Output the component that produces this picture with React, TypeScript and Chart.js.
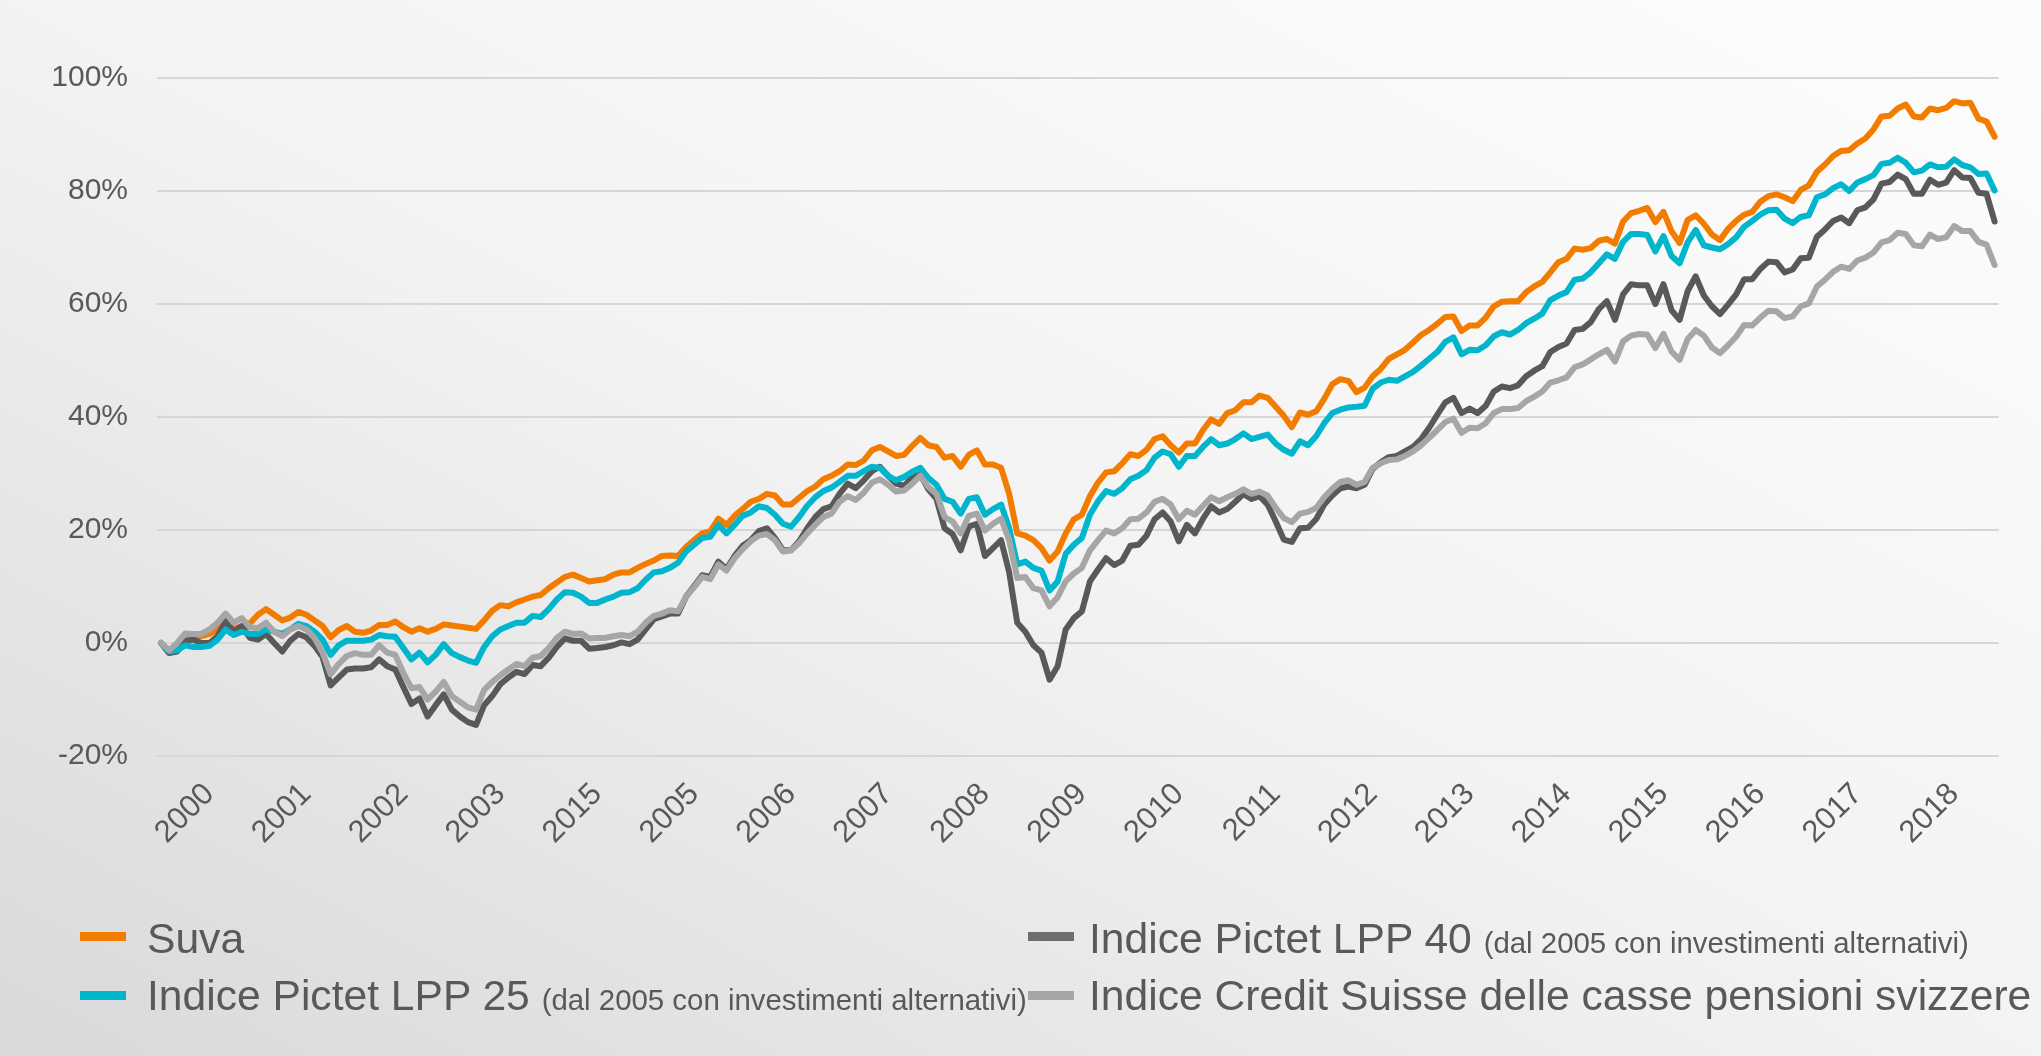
import React, { useEffect, useRef } from 'react';
import { Chart, registerables } from 'chart.js';

Chart.register(...registerables);

// Tick labels as printed on the original axis (one per year, centred on July)
const yearTicks = ['2000', '2001', '2002', '2003', '2015', '2005', '2006', '2007', '2008', '2009', '2010', '2011', '2012', '2013', '2014', '2015', '2016', '2017', '2018'];

// Monthly categories Jan 2000 .. Dec 2018
const categories: string[] = [];
for (let y = 2000; y <= 2018; y++) {
  for (let m = 1; m <= 12; m++) categories.push(`${y}-${m < 10 ? '0' + m : m}`);
}

const suva = [
  0, -1.6, -1.3, 1.6, 1.4, 1.2, 1.6, 2.4, 3.5, 2.5, 3.0, 3.5,
  5.0, 6.0, 5.0, 4.0, 4.5, 5.5, 5.0, 4.0, 3.0, 1.0, 2.3, 3.0,
  2.0, 1.8, 2.2, 3.2, 3.2, 3.8, 2.8, 2.0, 2.6, 2.0, 2.5, 3.3,
  3.1, 2.9, 2.7, 2.5, 4.0, 5.7, 6.7, 6.5, 7.2, 7.7, 8.2, 8.5,
  9.7, 10.7, 11.7, 12.1, 11.5, 10.9, 11.1, 11.3, 12.1, 12.5, 12.5, 13.3,
  14.0, 14.6, 15.4, 15.5, 15.4, 17.0, 18.2, 19.4, 19.8, 22.0, 20.9, 22.5,
  23.7, 25.0, 25.5, 26.4, 26.1, 24.5, 24.5, 25.7, 26.9, 27.7, 29.0, 29.6,
  30.4, 31.6, 31.5, 32.3, 34.1, 34.7, 33.9, 33.1, 33.3, 34.9, 36.3, 35.0,
  34.7, 32.8, 33.1, 31.2, 33.3, 34.1, 31.6, 31.6, 31.0, 26.4, 19.4, 19.0,
  18.2, 16.8, 14.6, 16.2, 19.4, 21.9, 22.7, 26.0, 28.4, 30.2, 30.4, 31.8,
  33.4, 33.1, 34.2, 36.1, 36.6, 35.0, 33.7, 35.3, 35.3, 37.7, 39.6, 38.8,
  40.7, 41.2, 42.6, 42.6, 43.8, 43.4, 41.8, 40.2, 38.2, 40.8, 40.4, 41.0,
  43.2, 45.8, 46.7, 46.4, 44.4, 45.2, 47.2, 48.5, 50.3, 51.1, 51.9, 53.2,
  54.5, 55.4, 56.5, 57.7, 57.8, 55.2, 56.2, 56.2, 57.6, 59.6, 60.4, 60.5,
  60.5, 62.1, 63.1, 63.9, 65.6, 67.4, 68.0, 69.8, 69.6, 69.9, 71.2, 71.5,
  70.7, 74.6, 76.1, 76.5, 77.0, 74.5, 76.3, 72.9, 70.8, 74.9, 75.7, 74.2,
  72.3, 71.3, 73.3, 74.7, 75.8, 76.3, 78.1, 79.1, 79.4, 78.9, 78.2, 80.2,
  81.0, 83.4, 84.7, 86.2, 87.1, 87.2, 88.4, 89.3, 90.9, 93.2, 93.3, 94.6,
  95.3, 93.2, 93.0, 94.6, 94.3, 94.7, 95.9, 95.5, 95.6, 92.8, 92.3, 89.6,
];

const lpp25 = [
  0, -1.5, -1.3, -0.4, -0.7, -0.7, -0.5, 0.6, 2.4, 1.4, 2.0, 1.6,
  1.6, 2.4, 2.0, 1.6, 2.4, 3.4, 3.0, 2.0, 0.6, -2.1, -0.4, 0.4,
  0.4, 0.4, 0.6, 1.4, 1.2, 1.1, -0.9, -2.9, -1.7, -3.4, -2.1, -0.2,
  -1.8, -2.5, -3.1, -3.5, -0.7, 1.2, 2.4, 3.0, 3.6, 3.6, 4.8, 4.6,
  6.0, 7.7, 9.0, 8.9, 8.2, 7.1, 7.1, 7.7, 8.2, 8.9, 9.0, 9.7,
  11.2, 12.5, 12.7, 13.3, 14.2, 16.2, 17.4, 18.6, 18.8, 20.9, 19.4, 20.9,
  22.5, 23.1, 24.2, 23.9, 22.7, 21.1, 20.6, 22.3, 24.3, 25.8, 26.9, 27.5,
  28.5, 29.6, 29.6, 30.4, 31.2, 31.0, 29.6, 28.8, 29.4, 30.3, 31.0, 29.2,
  28.0, 25.5, 25.0, 22.9, 25.5, 25.8, 22.7, 23.7, 24.5, 20.3, 13.9, 14.4,
  13.3, 12.8, 9.3, 10.9, 15.8, 17.4, 18.6, 22.7, 25.1, 26.9, 26.4, 27.4,
  29.0, 29.6, 30.6, 32.8, 33.9, 33.4, 31.2, 33.1, 33.1, 34.7, 36.1, 35.0,
  35.3, 36.1, 37.1, 36.1, 36.5, 36.9, 35.3, 34.2, 33.5, 35.7, 35.0, 36.6,
  38.9, 40.7, 41.3, 41.7, 41.8, 42.0, 45.0, 46.1, 46.6, 46.4, 47.2, 48.0,
  49.1, 50.3, 51.5, 53.3, 54.1, 51.1, 51.9, 51.8, 52.7, 54.3, 55.0, 54.6,
  55.4, 56.6, 57.4, 58.3, 60.7, 61.5, 62.1, 64.3, 64.5, 65.6, 67.2, 68.8,
  68.0, 71.0, 72.4, 72.4, 72.2, 69.3, 72.0, 68.5, 67.2, 70.9, 73.1, 70.4,
  70.0, 69.7, 70.6, 71.8, 73.7, 74.7, 75.8, 76.6, 76.7, 75.1, 74.3, 75.4,
  75.7, 78.9, 79.4, 80.5, 81.2, 80.0, 81.5, 82.1, 82.8, 84.8, 85.0, 85.9,
  85.0, 83.3, 83.6, 84.7, 84.2, 84.3, 85.6, 84.6, 84.2, 83.0, 83.1, 80.1,
];

const lpp40 = [
  0, -1.8, -1.5, 0.4, 0.6, 0, 0, 1.2, 3.9, 2.0, 3.0, 0.9,
  0.6, 1.6, 0, -1.5, 0.4, 1.6, 1.0, -0.5, -2.5, -7.5, -6.1, -4.7,
  -4.5, -4.5, -4.3, -2.9, -4.1, -4.7, -7.8, -10.8, -9.8, -13.0, -11.0, -9.1,
  -11.8, -13.0, -14.0, -14.5, -11.0, -9.4, -7.3, -6.1, -5.1, -5.5, -3.9, -4.1,
  -2.6, -0.7, 0.8, 0.4, 0.4, -1.0, -0.9, -0.7, -0.4, 0.1, -0.2, 0.6,
  2.4, 4.2, 4.7, 5.2, 5.2, 8.2, 10.1, 12.0, 11.7, 14.4, 13.1, 15.4,
  17.2, 18.2, 19.8, 20.3, 18.6, 16.4, 16.4, 18.0, 20.3, 22.3, 23.7, 24.2,
  26.4, 28.2, 27.4, 28.8, 30.4, 31.2, 29.6, 28.2, 27.8, 29.4, 29.8, 27.2,
  25.5, 20.3, 19.3, 16.4, 20.6, 21.1, 15.4, 16.8, 18.2, 12.5, 3.6, 2.0,
  -0.4, -1.7, -6.5, -4.1, 2.4, 4.4, 5.6, 10.9, 13.0, 15.0, 13.8, 14.6,
  17.2, 17.4, 19.0, 21.9, 23.1, 21.5, 18.0, 20.9, 19.4, 22.0, 24.2, 23.1,
  23.7, 25.0, 26.4, 25.5, 26.0, 24.5, 21.5, 18.3, 17.9, 20.3, 20.4, 21.9,
  24.5, 26.1, 27.4, 27.7, 27.4, 28.0, 30.8, 32.0, 32.9, 33.1, 33.9, 34.7,
  36.1, 38.1, 40.4, 42.6, 43.4, 40.7, 41.5, 40.7, 42.0, 44.5, 45.4, 45.1,
  45.6, 47.2, 48.2, 49.0, 51.5, 52.4, 53.0, 55.4, 55.6, 56.8, 59.1, 60.5,
  57.2, 61.7, 63.5, 63.3, 63.3, 60.0, 63.5, 58.9, 57.2, 62.3, 64.9, 61.5,
  59.6, 58.2, 59.9, 61.7, 64.4, 64.4, 66.2, 67.5, 67.4, 65.6, 66.1, 68.1,
  68.2, 71.9, 73.2, 74.7, 75.3, 74.3, 76.6, 77.1, 78.5, 81.3, 81.6, 82.9,
  82.1, 79.5, 79.5, 82.0, 81.1, 81.5, 83.7, 82.4, 82.3, 79.7, 79.5, 74.6,
];

const csIndex = [
  0, -1.3, 0, 1.7, 1.6, 1.6, 2.4, 3.6, 5.2, 3.6, 4.4, 2.8,
  2.6, 3.6, 2.0, 1.2, 2.4, 3.0, 2.4, 0.9, -1.7, -5.5, -3.7, -2.3,
  -1.8, -2.1, -2.1, -0.4, -1.7, -2.1, -5.3, -8.0, -7.8, -10.0, -8.6, -6.9,
  -9.4, -10.4, -11.4, -11.8, -8.3, -6.9, -5.7, -4.7, -3.7, -4.1, -2.6, -2.3,
  -0.9, 0.9, 2.0, 1.6, 1.7, 0.8, 0.9, 0.9, 1.2, 1.4, 1.2, 2.0,
  3.6, 4.8, 5.2, 5.8, 5.6, 8.2, 9.9, 11.7, 11.3, 13.9, 12.8, 15.0,
  16.6, 18.0, 19.0, 19.3, 18.2, 16.2, 16.4, 17.7, 19.4, 20.9, 22.3, 22.9,
  25.0, 26.0, 25.3, 26.6, 28.4, 29.0, 28.0, 26.8, 27.0, 28.2, 29.6, 27.6,
  26.4, 22.3, 21.5, 19.4, 22.5, 22.9, 19.9, 21.1, 22.0, 18.2, 11.5, 11.7,
  9.7, 9.3, 6.5, 8.1, 10.9, 12.3, 13.3, 16.4, 18.2, 19.9, 19.4, 20.3,
  21.9, 22.0, 23.1, 25.0, 25.5, 24.5, 21.9, 23.4, 22.7, 24.3, 25.8, 25.1,
  25.8, 26.4, 27.2, 26.4, 26.8, 26.1, 23.9, 22.1, 21.4, 22.9, 23.2, 23.9,
  25.8, 27.3, 28.5, 28.8, 28.0, 28.5, 31.0, 31.8, 32.4, 32.5, 33.1, 33.9,
  35.0, 36.3, 37.7, 39.1, 39.7, 37.2, 38.1, 38.0, 38.9, 40.7, 41.4, 41.4,
  41.6, 42.8, 43.6, 44.5, 46.1, 46.5, 47.0, 48.8, 49.3, 50.2, 51.1, 51.9,
  49.8, 53.4, 54.4, 54.7, 54.6, 52.2, 54.7, 51.6, 50.1, 53.8, 55.4, 54.4,
  52.3, 51.3, 52.7, 54.2, 56.3, 56.2, 57.6, 58.8, 58.7, 57.5, 57.8, 59.6,
  60.1, 63.1, 64.3, 65.7, 66.6, 66.2, 67.7, 68.2, 69.1, 70.9, 71.3, 72.6,
  72.4, 70.4, 70.2, 72.3, 71.5, 71.8, 73.8, 72.9, 72.9, 71.0, 70.5, 66.9,
];

const COLORS = {
  suva: '#F27C00',
  lpp25: '#00B5CC',
  lpp40: '#595959',
  cs: '#A6A6A6',
  text: '#595959',
  grid: '#D6D6D6',
};

const FONT = '"Liberation Sans", Arial, Helvetica, sans-serif';

export default function App() {
  const canvasRef = useRef<HTMLCanvasElement | null>(null);

  useEffect(() => {
    const canvas = canvasRef.current;
    if (!canvas) return;
    const chart = new Chart(canvas, {
      type: 'line',
      data: {
        labels: categories,
        datasets: [
          { label: 'Indice Credit Suisse delle casse pensioni svizzere', data: csIndex, borderColor: COLORS.cs, order: 0 },
          { label: 'Indice Pictet LPP 25', data: lpp25, borderColor: COLORS.lpp25, order: 1 },
          { label: 'Indice Pictet LPP 40', data: lpp40, borderColor: COLORS.lpp40, order: 2 },
          { label: 'Suva', data: suva, borderColor: COLORS.suva, order: 3 },
        ].map((d) => ({
          ...d,
          borderWidth: 6,
          pointRadius: 0,
          pointHoverRadius: 0,
          tension: 0,
          fill: false,
          borderJoinStyle: 'round' as const,
          borderCapStyle: 'round' as const,
        })),
      },
      options: {
        responsive: false,
        animation: false,
        events: [],
        layout: { padding: { left: 0, right: 39, top: 78, bottom: 190 } },
        plugins: {
          legend: { display: false },
          tooltip: { enabled: false },
          title: { display: false },
        },
        scales: {
          x: {
            type: 'category',
            offset: true,
            grid: { display: false, drawTicks: false },
            border: { display: false },
            ticks: {
              autoSkip: false,
              minRotation: 45,
              maxRotation: 45,
              padding: 20,
              labelOffset: 0,
              color: COLORS.text,
              font: { family: FONT, size: 31 },
              callback: (_v: any, idx: number) => (idx % 12 === 6 ? yearTicks[Math.floor(idx / 12)] : ''),
            },
            afterFit: (scale: any) => {
              scale.height = 110;
            },
          },
          y: {
            min: -20,
            max: 100,
            grid: { color: COLORS.grid, lineWidth: 2, drawTicks: false },
            border: { display: false },
            ticks: {
              stepSize: 20,
              padding: 29,
              color: COLORS.text,
              font: { family: FONT, size: 30 },
              callback: (v: any) => `${v}%`,
            },
            afterFit: (scale: any) => {
              scale.width = 157;
            },
          },
        },
      },
    });
    return () => chart.destroy();
  }, []);

  const legendText: React.CSSProperties = {
    position: 'absolute',
    fontFamily: FONT,
    fontSize: 42.6,
    lineHeight: '42px',
    color: COLORS.text,
    whiteSpace: 'nowrap',
  };
  const small: React.CSSProperties = { fontSize: 29.4 };
  const marker = (left: number, top: number, color: string): React.CSSProperties => ({
    position: 'absolute',
    left,
    top,
    width: 46,
    height: 9,
    background: color,
  });

  return (
    <div
      style={{
        position: 'fixed',
        left: 0,
        top: 0,
        width: 2041,
        height: 1056,
        overflow: 'hidden',
        background: 'linear-gradient(to bottom left, #fdfdfd 0%, #f3f3f3 50%, #d9d9d9 100%)',
      }}
    >
      <canvas ref={canvasRef} width={2041} height={1056} style={{ position: 'absolute', left: 0, top: 0, width: 2041, height: 1056 }} />
      <div style={marker(80, 932, COLORS.suva)} />
      <div style={{ ...legendText, left: 147, top: 917 }}>Suva</div>
      <div style={marker(1028, 932, '#6E6E6E')} />
      <div style={{ ...legendText, left: 1089, top: 917 }}>
        Indice Pictet LPP 40 <span style={small}>(dal 2005 con investimenti alternativi)</span>
      </div>
      <div style={marker(80, 991, COLORS.lpp25)} />
      <div style={{ ...legendText, left: 147, top: 974 }}>
        Indice Pictet LPP 25 <span style={small}>(dal 2005 con investimenti alternativi)</span>
      </div>
      <div style={marker(1028, 991, COLORS.cs)} />
      <div style={{ ...legendText, left: 1089, top: 974 }}>Indice Credit Suisse delle casse pensioni svizzere</div>
    </div>
  );
}
